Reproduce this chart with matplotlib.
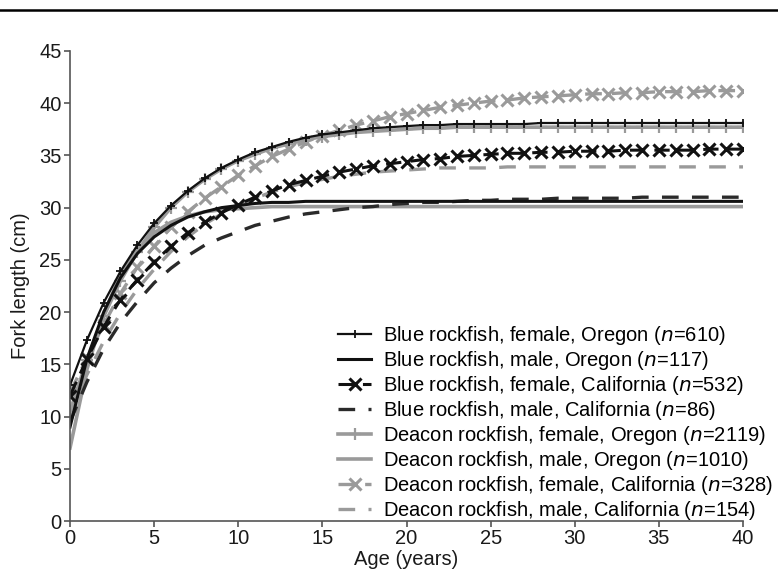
import matplotlib.pyplot as plt
from matplotlib.lines import Line2D

plt.rcParams['font.family'] = ['Liberation Sans', 'DejaVu Sans']

ages = list(range(0, 41))

# fork length (cm) at each age
blue_f_or = [13.0, 17.3, 20.9, 23.9, 26.4, 28.5, 30.2, 31.6, 32.8, 33.8,
             34.6, 35.3, 35.8, 36.3, 36.7, 37.0, 37.2, 37.4, 37.6, 37.7,
             37.8, 37.9, 37.9, 38.0, 38.0, 38.0, 38.0, 38.0, 38.1, 38.1,
             38.1, 38.1, 38.1, 38.1, 38.1, 38.1, 38.1, 38.1, 38.1, 38.1, 38.1]
blue_m_or = [9.0, 15.5, 20.0, 23.3, 25.6, 27.2, 28.3, 29.1, 29.6, 30.0,
             30.2, 30.4, 30.5, 30.5, 30.6, 30.6, 30.6, 30.6, 30.6, 30.6,
             30.6, 30.6, 30.6, 30.6, 30.6, 30.6, 30.6, 30.6, 30.6, 30.6,
             30.6, 30.6, 30.6, 30.6, 30.6, 30.6, 30.6, 30.6, 30.6, 30.6, 30.6]
blue_f_ca = [12.0, 15.5, 18.6, 21.2, 23.1, 24.8, 26.3, 27.6, 28.6, 29.5,
             30.3, 31.0, 31.6, 32.2, 32.6, 33.0, 33.4, 33.7, 34.0, 34.2,
             34.4, 34.6, 34.7, 34.9, 35.0, 35.1, 35.2, 35.2, 35.3, 35.3,
             35.4, 35.4, 35.4, 35.5, 35.5, 35.5, 35.5, 35.5, 35.6, 35.6, 35.6]
blue_m_ca = [9.5, 13.3, 16.5, 19.0, 21.0, 22.8, 24.2, 25.4, 26.4, 27.1,
             27.7, 28.3, 28.7, 29.1, 29.4, 29.6, 29.8, 30.0, 30.1, 30.3,
             30.4, 30.5, 30.5, 30.6, 30.7, 30.7, 30.8, 30.8, 30.8, 30.9,
             30.9, 30.9, 30.9, 30.9, 31.0, 31.0, 31.0, 31.0, 31.0, 31.0, 31.0]
deac_f_or = [10.5, 15.4, 19.6, 23.0, 25.8, 28.1, 30.0, 31.5, 32.7, 33.7,
             34.5, 35.1, 35.7, 36.1, 36.5, 36.8, 37.0, 37.2, 37.3, 37.4,
             37.5, 37.6, 37.6, 37.7, 37.7, 37.7, 37.7, 37.7, 37.7, 37.7,
             37.7, 37.7, 37.7, 37.7, 37.7, 37.7, 37.7, 37.7, 37.7, 37.7, 37.7]
deac_m_or = [7.0, 14.5, 19.8, 23.6, 26.0, 27.6, 28.6, 29.2, 29.6, 29.8,
             29.9, 30.0, 30.1, 30.1, 30.1, 30.1, 30.1, 30.1, 30.1, 30.1,
             30.1, 30.1, 30.1, 30.1, 30.1, 30.1, 30.1, 30.1, 30.1, 30.1,
             30.1, 30.1, 30.1, 30.1, 30.1, 30.1, 30.1, 30.1, 30.1, 30.1, 30.1]
deac_f_ca = [12.3, 15.6, 18.8, 21.8, 24.3, 26.3, 28.1, 29.6, 30.9, 32.0,
             33.1, 34.0, 34.9, 35.6, 36.3, 36.9, 37.4, 37.9, 38.3, 38.7,
             39.0, 39.3, 39.6, 39.8, 40.0, 40.2, 40.3, 40.5, 40.6, 40.7,
             40.8, 40.9, 40.9, 41.0, 41.0, 41.1, 41.1, 41.1, 41.2, 41.2, 41.2]
deac_m_ca = [10.3, 14.0, 17.2, 19.9, 22.2, 24.1, 25.8, 27.2, 28.4, 29.4,
             30.2, 30.9, 31.5, 32.0, 32.4, 32.7, 33.0, 33.2, 33.4, 33.5,
             33.6, 33.7, 33.8, 33.8, 33.8, 33.8, 33.9, 33.9, 33.9, 33.9,
             33.9, 33.9, 33.9, 33.9, 33.9, 33.9, 33.9, 33.9, 33.9, 33.9, 33.9]

labels = [
    'Blue rockfish, female, Oregon ($n$=610)',
    'Blue rockfish, male, Oregon ($n$=117)',
    'Blue rockfish, female, California ($n$=532)',
    'Blue rockfish, male, California ($n$=86)',
    'Deacon rockfish, female, Oregon ($n$=2119)',
    'Deacon rockfish, male, Oregon ($n$=1010)',
    'Deacon rockfish, female, California ($n$=328)',
    'Deacon rockfish, male, California ($n$=154)',
]

black = '#111111'
dark = '#2a2a2a'
gray = '#9a9a9a'
fs = 14.5

fig = plt.figure(figsize=(7.78, 5.72), dpi=100)
ax = fig.add_axes([0.09, 0.089, 0.865, 0.822])

# draw gray series first, black on top
ax.plot(ages, deac_m_ca, color=gray, lw=2.4, dashes=(5, 4), label=labels[7])
ax.plot(ages, deac_f_ca, color=gray, lw=2.4, dashes=(5, 3), marker='x',
        ms=8, mew=2.2, label=labels[6])
ax.plot(ages, deac_m_or, color=gray, lw=2.6, label=labels[5])
ax.plot(ages, deac_f_or, color=gray, lw=2.6, marker='+', ms=9, mew=1.6,
        label=labels[4])
ax.plot(ages, blue_m_ca, color=dark, lw=2.4, dashes=(5, 4), label=labels[3])
ax.plot(ages, blue_f_ca, color=black, lw=2.2, dashes=(5, 3), marker='x',
        ms=8, mew=2.2, label=labels[2])
ax.plot(ages, blue_m_or, color=black, lw=2.2, label=labels[1])
ax.plot(ages, blue_f_or, color=black, lw=1.6, marker='+', ms=6, mew=1.3,
        label=labels[0])

ax.set_xlim(0, 40)
ax.set_ylim(0, 45)
ax.set_xticks(range(0, 41, 5))
ax.set_yticks(range(0, 46, 5))

for s in ['top', 'right']:
    ax.spines[s].set_visible(False)
for s in ['left', 'bottom']:
    ax.spines[s].set_color('#555555')
    ax.spines[s].set_linewidth(1.2)
ax.tick_params(colors='#555555', labelcolor='#1a1a1a', labelsize=fs,
               length=4, width=1.2, pad=2)

ax.set_xlabel('Age (years)', fontsize=fs, color='#1a1a1a', labelpad=1)
ax.set_ylabel('Fork length (cm)', fontsize=fs, color='#1a1a1a', labelpad=7)

handles, labs = ax.get_legend_handles_labels()
handles = handles[::-1]
labs = labs[::-1]
ax.legend(handles, labs, loc='lower right', bbox_to_anchor=(1.056, -0.02),
          frameon=False, fontsize=fs, handlelength=1.6, handletextpad=0.6,
          labelspacing=0.1, borderaxespad=0)

# rule across the top of the figure
fig.add_artist(Line2D([0, 1], [0.982, 0.982], color='black', lw=1.8))

fig.savefig('out.png', dpi=100)
